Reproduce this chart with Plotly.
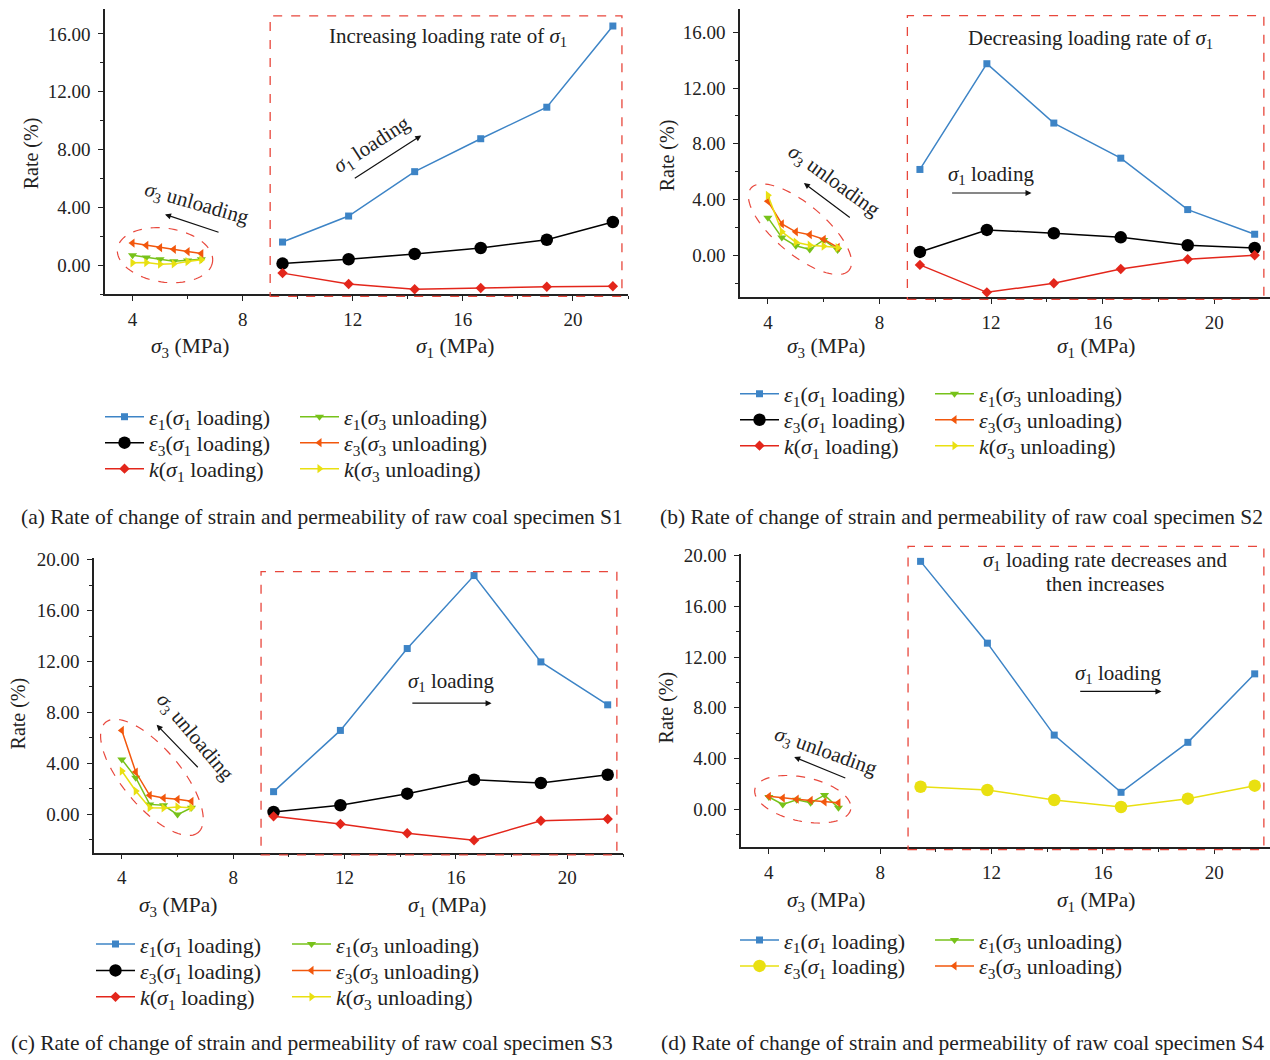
import numpy as np
import plotly.graph_objects as go

W, H = 1270, 1060

# ---------------- data ----------------
sigma3_unloading = [4.0, 4.5, 5.0, 5.5, 6.0, 6.5]
sigma1_loading = [9.45, 11.85, 14.25, 16.65, 19.05, 21.45]

# specimen S1
s1_e1_load = [1.60, 3.40, 6.47, 8.75, 10.93, 16.55]
s1_e3_load = [0.11, 0.41, 0.78, 1.19, 1.76, 2.99]
s1_k_load = [-0.55, -1.30, -1.67, -1.58, -1.49, -1.46]
s1_e1_unload = [0.69, 0.53, 0.41, 0.27, 0.32, 0.41]
s1_e3_unload = [1.53, 1.37, 1.21, 1.10, 0.94, 0.80]
s1_k_unload = [0.16, 0.18, 0.07, 0.09, 0.25, 0.37]

# specimen S2
s2_e1_load = [6.16, 13.75, 9.49, 6.97, 3.28, 1.51]
s2_e3_load = [0.24, 1.82, 1.58, 1.29, 0.72, 0.53]
s2_k_load = [-0.69, -2.66, -2.01, -0.98, -0.29, 0.00]
s2_e1_unload = [2.70, 1.28, 0.68, 0.41, 1.10, 0.38]
s2_e3_unload = [3.88, 2.25, 1.68, 1.48, 1.15, 0.57]
s2_k_unload = [4.30, 1.68, 0.94, 0.72, 0.65, 0.55]

# specimen S3
s3_e1_load = [1.78, 6.59, 13.02, 18.75, 11.97, 8.60]
s3_e3_load = [0.18, 0.71, 1.62, 2.72, 2.46, 3.11]
s3_k_load = [-0.16, -0.76, -1.49, -2.04, -0.50, -0.37]
s3_e1_unload = [4.31, 2.88, 0.78, 0.71, -0.02, 0.52]
s3_e3_unload = [6.59, 3.32, 1.49, 1.28, 1.18, 1.02]
s3_k_unload = [3.40, 1.83, 0.52, 0.50, 0.58, 0.52]

# specimen S4
s4_e1_load = [19.55, 13.10, 5.85, 1.34, 5.28, 10.68]
s4_e3_load = [1.78, 1.52, 0.73, 0.18, 0.84, 1.86]
s4_e1_unload = [0.97, 0.38, 0.75, 0.51, 1.12, 0.12]
s4_e3_unload = [1.02, 0.89, 0.80, 0.70, 0.58, 0.51]

captions = [
    "(a) Rate of change of strain and permeability of raw coal specimen S1",
    "(b) Rate of change of strain and permeability of raw coal specimen S2",
    "(c) Rate of change of strain and permeability of raw coal specimen S3",
    "(d) Rate of change of strain and permeability of raw coal specimen S4",
]

# ---------------- style ----------------
FONT = "Liberation Serif, Times New Roman, serif"
BLUE = "#3d84c6"
BLACK = "#000000"
RED = "#e3261b"
GREEN = "#77c21a"
ORANGE = "#f2570c"
YELLOW = "#e9e011"
DRED = "#e8473c"
AXC = "#222222"
TXT = 21

XR = (3, 22)
SC = 0.993
OFF = 7.5


def vy(y):
    # vertical pixel correction for the page rendering
    return (y - OFF) / SC


# pixel boxes (left, right, top, bottom) in reference pixels, and y ranges
panels = [
    dict(box=(105, 628, 5, 293), yr=(-2, 17.9)),
    dict(box=(740, 1270, 3, 296), yr=(-3, 18)),
    dict(box=(94, 623, 557.7, 852.3), yr=(-3, 20.1)),
    dict(box=(741, 1270, 553.7, 847.1), yr=(-3, 20.1)),
]
# keep the reference scale when the top would leave the page
for p in panels:
    l, r, t, b = p["box"]
    y0, y1 = p["yr"]
    kref = (b - t) / (y1 - y0)
    top = vy(t)
    if top < 0:
        top = 0.0
        y1 = y0 + (vy(b) - top) / (kref / SC)
    p["dom"] = (1 - vy(b) / H, 1 - top / H)
    p["yr_eff"] = (y0, y1)
    p["kref"] = kref


def px(xp):
    return xp / W


def py(yp):
    return 1 - vy(yp) / H


def sig(n):
    return "<i>σ</i><sub>%d</sub>" % n


fig = go.Figure()
legends = {}


def add(i, x, y, color, symbol, size, name, lx, ly):
    k = len(fig.data) + 1
    key = "legend" if k == 1 else "legend%d" % k
    legends[key] = dict(x=px(lx), y=py(ly - 23), xanchor="left", yanchor="top",
                        bgcolor="rgba(0,0,0,0)", borderwidth=0,
                        font=dict(family=FONT, size=22, color=AXC),
                        itemwidth=39, itemclick=False)
    sx = "" if i == 0 else str(i + 1)
    fig.add_trace(go.Scatter(
        x=x, y=y, mode="lines+markers", name=name,
        xaxis="x" + sx, yaxis="y" + sx, legend=key,
        line=dict(color=color, width=1.5),
        marker=dict(color=color, symbol=symbol, size=size, line=dict(width=0)),
        cliponaxis=False,
    ))


E1L = "<i>ε</i><sub>1</sub>(" + sig(1) + " loading)"
E3L = "<i>ε</i><sub>3</sub>(" + sig(1) + " loading)"
KL = "<i>k</i>(" + sig(1) + " loading)"
E1U = "<i>ε</i><sub>1</sub>(" + sig(3) + " unloading)"
E3U = "<i>ε</i><sub>3</sub>(" + sig(3) + " unloading)"
KU = "<i>k</i>(" + sig(3) + " unloading)"

sets = [
    (s1_e1_load, s1_e3_load, s1_k_load, s1_e1_unload, s1_e3_unload, s1_k_unload),
    (s2_e1_load, s2_e3_load, s2_k_load, s2_e1_unload, s2_e3_unload, s2_k_unload),
    (s3_e1_load, s3_e3_load, s3_k_load, s3_e1_unload, s3_e3_unload, s3_k_unload),
]
# legend slots: (left column x, right column x, first row y, row step)
leg_slots = [(100, 295, 418, 26), (735, 930, 395, 26), (91, 287, 946, 26.5), (735, 930, 942, 26)]

for i, (e1l, e3l, kl, e1u, e3u, ku) in enumerate(sets):
    lx, rx, y0, dy = leg_slots[i]
    add(i, sigma1_loading, e1l, BLUE, "square", 7, E1L, lx, y0)
    add(i, sigma1_loading, e3l, BLACK, "circle", 12.5, E3L, lx, y0 + dy)
    add(i, sigma1_loading, kl, RED, "diamond", 8, KL, lx, y0 + 2 * dy)
    add(i, sigma3_unloading, e1u, GREEN, "triangle-down", 8, E1U, rx, y0)
    add(i, sigma3_unloading, e3u, ORANGE, "triangle-left", 8, E3U, rx, y0 + dy)
    add(i, sigma3_unloading, ku, YELLOW, "triangle-right", 8, KU, rx, y0 + 2 * dy)

lx, rx, y0, dy = leg_slots[3]
add(3, sigma1_loading, s4_e1_load, BLUE, "square", 7, E1L, lx, y0)
add(3, sigma1_loading, s4_e3_load, YELLOW, "circle", 12.5, E3L, lx, y0 + dy)
add(3, sigma3_unloading, s4_e1_unload, GREEN, "triangle-down", 8, E1U, rx, y0)
add(3, sigma3_unloading, s4_e3_unload, ORANGE, "triangle-left", 8, E3U, rx, y0 + dy)

layout = dict(
    width=W, height=H, margin=dict(l=0, r=0, t=0, b=0),
    paper_bgcolor="white", plot_bgcolor="white",
    font=dict(family=FONT, size=19, color=AXC),
    showlegend=True,
)
layout.update(legends)

for i, p in enumerate(panels):
    sx = "" if i == 0 else str(i + 1)
    l, r, t, b = p["box"]
    common = dict(
        showline=True, linecolor=AXC, linewidth=1.5, mirror=False,
        ticks="outside", ticklen=5, tickwidth=1.3, tickcolor=AXC,
        showgrid=False, zeroline=False,
        tickfont=dict(family=FONT, size=19, color=AXC),
        minor=dict(ticks="outside", ticklen=3, tickwidth=1.2, tickcolor=AXC,
                   dtick=2, showgrid=False),
        tick0=0, dtick=4,
    )
    layout["xaxis" + sx] = dict(common, range=list(XR), domain=[px(l), px(r)],
                                anchor="y" + sx, ticklabelstandoff=2)
    layout["yaxis" + sx] = dict(common, range=list(p["yr_eff"]),
                                domain=list(p["dom"]),
                                anchor="x" + sx, tickformat=".2f", ticklabelstandoff=4)

fig.update_layout(**layout)


# ---------------- decorations ----------------
def axes_of(i):
    sx = "" if i == 0 else str(i + 1)
    return "x" + sx, "y" + sx


def ellipse(i, cx, cy, a, b, ang):
    p = panels[i]
    l, r, t, bt = p["box"]
    kx = (r - l) / (XR[1] - XR[0])
    ky = p["kref"]
    tt = np.linspace(0, 2 * np.pi, 97)
    th = np.radians(ang)
    dx = a * np.cos(tt) * np.cos(th) - b * np.sin(tt) * np.sin(th)
    dy = a * np.cos(tt) * np.sin(th) + b * np.sin(tt) * np.cos(th)
    X = cx + dx / kx
    Y = cy - dy / ky
    path = "M " + " L ".join("%.4f,%.4f" % (u, v) for u, v in zip(X, Y)) + " Z"
    xa, ya = axes_of(i)
    fig.add_shape(type="path", path=path, xref=xa, yref=ya,
                  line=dict(color=DRED, width=1.2, dash="dash"))


def rect(i, top):
    p = panels[i]
    yr = p["yr_eff"]
    xa, ya = axes_of(i)
    yt = (top - yr[0]) / (yr[1] - yr[0])
    fig.add_shape(type="rect", xref=xa, yref=ya + " domain",
                  x0=9.0, x1=21.78, y0=-0.008, y1=yt,
                  line=dict(color=DRED, width=1.3, dash="dash"))


def text(i, x, y, s, angle=0, size=TXT):
    xa, ya = axes_of(i)
    fig.add_annotation(x=x, y=y, xref=xa, yref=ya, text=s, showarrow=False,
                       xanchor="center", yanchor="middle",
                       textangle=angle, font=dict(family=FONT, size=size, color=AXC))


def arrow(i, x0, y0, x1, y1):
    xa, ya = axes_of(i)
    fig.add_annotation(x=x1, y=y1, ax=x0, ay=y0, xref=xa, yref=ya, axref=xa, ayref=ya,
                       text="", showarrow=True, arrowhead=2, arrowsize=1,
                       arrowwidth=1.2, arrowcolor="#111111", standoff=0, startstandoff=0)


# panel a
rect(0, 17.25)
ellipse(0, 5.18, 0.69, 48, 27, 8)
text(0, 15.45, 15.8, "Increasing loading rate of " + sig(1))
text(0, 12.7, 8.3, sig(1) + " loading", -33)
arrow(0, 12.02, 5.94, 14.49, 8.98)
text(0, 6.33, 4.2, sig(3) + " unloading", 16)
arrow(0, 7.18, 2.24, 5.18, 3.51)

# panel b
rect(1, 17.2)
ellipse(1, 5.15, 1.87, 64, 25, 40)
text(1, 15.57, 15.5, "Decreasing loading rate of " + sig(1))
text(1, 11.99, 5.78, sig(1) + " loading")
arrow(1, 10.55, 4.47, 13.45, 4.47)
text(1, 6.35, 5.31, sig(3) + " unloading", 36)
arrow(1, 6.99, 2.63, 5.29, 5.19)

# panel c
rect(2, 19.06)
ellipse(2, 5.08, 2.9, 72, 29, 50)
text(2, 15.55, 20.45, sig(1) + " loading rate increases and then decreases")
text(2, 15.81, 10.38, sig(1) + " loading")
arrow(2, 14.38, 8.73, 17.28, 8.73)
text(2, 6.61, 6.06, sig(3) + " unloading", 50)
arrow(2, 6.78, 3.58, 5.25, 7.03)

# panel d
rect(3, 20.73)
ellipse(3, 5.22, 0.79, 49, 22, 12)
text(3, 16.07, 19.6, sig(1) + " loading rate decreases and")
text(3, 16.07, 17.75, "then increases")
text(3, 16.55, 10.68, sig(1) + " loading")
arrow(3, 15.13, 9.29, 18.1, 9.29)
text(3, 6.05, 4.5, sig(3) + " unloading", 20)
arrow(3, 6.8, 2.42, 4.91, 4.12)

# axis titles
axis_titles = [
    ((190, 347), (455, 347), (31, 152)),
    ((826, 347), (1096, 347), (667, 154)),
    ((178, 906), (447, 906), (18, 713)),
    ((826, 901), (1096, 901), (666, 707)),
]


def ptext(xp, yp, s, size, angle=0):
    fig.add_annotation(x=px(xp), y=py(yp), xref="paper", yref="paper", text=s,
                       showarrow=False, xanchor="center", yanchor="middle",
                       textangle=angle, font=dict(family=FONT, size=size, color=AXC))


for (a3, a1, ar) in axis_titles:
    ptext(a3[0], a3[1], sig(3) + " (MPa)", 21.5)
    ptext(a1[0], a1[1], sig(1) + " (MPa)", 21.5)
    ptext(ar[0], ar[1], "Rate (%)", 20, -90)

cap_pos = [(322, 516), (961, 516), (312, 1043), (962, 1043)]
for s, (xp, yp) in zip(captions, cap_pos):
    ptext(xp, yp, s, 21.5)

fig.write_html("out.html")
